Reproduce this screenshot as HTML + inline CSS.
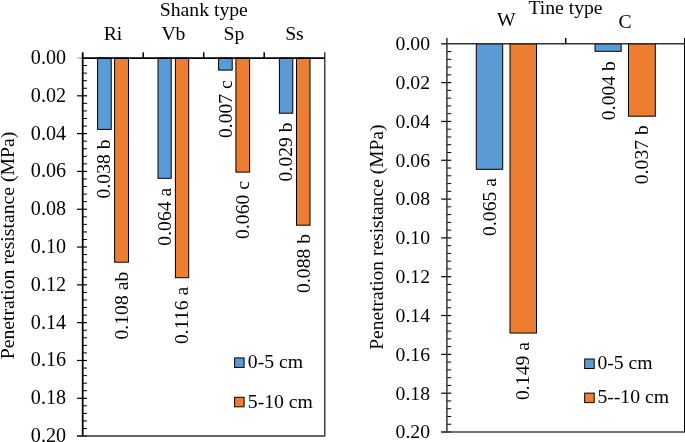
<!DOCTYPE html>
<html><head><meta charset="utf-8"><style>
html,body{margin:0;padding:0;background:#fff;width:685px;height:442px;overflow:hidden}
svg{display:block;will-change:transform}
text{font-family:"Liberation Serif",serif;fill:#000}
</style></head><body>
<svg width="685" height="442" viewBox="0 0 685 442">
<rect x="97.60" y="58.00" width="13.60" height="71.40" fill="#5B9BD5" stroke="#000" stroke-width="1"/>
<text x="110.30" y="139.34" text-anchor="end" font-size="19.7" transform="rotate(-90 110.30 139.34)">0.038 b</text>
<rect x="114.60" y="58.00" width="13.90" height="204.20" fill="#ED7D31" stroke="#000" stroke-width="1"/>
<text x="128.10" y="271.67" text-anchor="end" font-size="19.7" transform="rotate(-90 128.10 271.67)">0.108 ab</text>
<text x="112.95" y="40.40" text-anchor="middle" font-size="19.7">Ri</text>
<rect x="158.00" y="58.00" width="13.20" height="120.30" fill="#5B9BD5" stroke="#000" stroke-width="1"/>
<text x="171.30" y="187.69" text-anchor="end" font-size="19.7" transform="rotate(-90 171.30 187.69)">0.064 a</text>
<rect x="175.40" y="58.00" width="13.30" height="219.70" fill="#ED7D31" stroke="#000" stroke-width="1"/>
<text x="188.10" y="286.80" text-anchor="end" font-size="19.7" transform="rotate(-90 188.10 286.80)">0.116 a</text>
<text x="173.45" y="40.40" text-anchor="middle" font-size="19.7">Vb</text>
<rect x="218.60" y="58.00" width="13.60" height="12.10" fill="#5B9BD5" stroke="#000" stroke-width="1"/>
<text x="231.80" y="80.13" text-anchor="end" font-size="19.7" transform="rotate(-90 231.80 80.13)">0.007 c</text>
<rect x="235.90" y="58.00" width="13.70" height="114.10" fill="#ED7D31" stroke="#000" stroke-width="1"/>
<text x="249.10" y="180.93" text-anchor="end" font-size="19.7" transform="rotate(-90 249.10 180.93)">0.060 c</text>
<text x="233.95" y="40.40" text-anchor="middle" font-size="19.7">Sp</text>
<rect x="279.40" y="58.00" width="13.40" height="55.20" fill="#5B9BD5" stroke="#000" stroke-width="1"/>
<text x="292.30" y="122.32" text-anchor="end" font-size="19.7" transform="rotate(-90 292.30 122.32)">0.029 b</text>
<rect x="296.50" y="58.00" width="13.50" height="167.20" fill="#ED7D31" stroke="#000" stroke-width="1"/>
<text x="309.60" y="233.86" text-anchor="end" font-size="19.7" transform="rotate(-90 309.60 233.86)">0.088 b</text>
<text x="294.45" y="40.40" text-anchor="middle" font-size="19.7">Ss</text>
<line x1="77.00" y1="58.00" x2="82.70" y2="58.00" stroke="#999" stroke-width="1"/>
<line x1="82.70" y1="65.56" x2="87.00" y2="65.56" stroke="#000" stroke-width="1"/>
<line x1="82.70" y1="73.12" x2="87.00" y2="73.12" stroke="#000" stroke-width="1"/>
<line x1="82.70" y1="80.69" x2="87.00" y2="80.69" stroke="#000" stroke-width="1"/>
<line x1="82.70" y1="88.25" x2="87.00" y2="88.25" stroke="#000" stroke-width="1"/>
<line x1="77.00" y1="95.81" x2="87.00" y2="95.81" stroke="#000" stroke-width="1.2"/>
<line x1="82.70" y1="103.37" x2="87.00" y2="103.37" stroke="#000" stroke-width="1"/>
<line x1="82.70" y1="110.93" x2="87.00" y2="110.93" stroke="#000" stroke-width="1"/>
<line x1="82.70" y1="118.50" x2="87.00" y2="118.50" stroke="#000" stroke-width="1"/>
<line x1="82.70" y1="126.06" x2="87.00" y2="126.06" stroke="#000" stroke-width="1"/>
<line x1="77.00" y1="133.62" x2="87.00" y2="133.62" stroke="#000" stroke-width="1.2"/>
<line x1="82.70" y1="141.18" x2="87.00" y2="141.18" stroke="#000" stroke-width="1"/>
<line x1="82.70" y1="148.74" x2="87.00" y2="148.74" stroke="#000" stroke-width="1"/>
<line x1="82.70" y1="156.31" x2="87.00" y2="156.31" stroke="#000" stroke-width="1"/>
<line x1="82.70" y1="163.87" x2="87.00" y2="163.87" stroke="#000" stroke-width="1"/>
<line x1="77.00" y1="171.43" x2="87.00" y2="171.43" stroke="#000" stroke-width="1.2"/>
<line x1="82.70" y1="178.99" x2="87.00" y2="178.99" stroke="#000" stroke-width="1"/>
<line x1="82.70" y1="186.55" x2="87.00" y2="186.55" stroke="#000" stroke-width="1"/>
<line x1="82.70" y1="194.12" x2="87.00" y2="194.12" stroke="#000" stroke-width="1"/>
<line x1="82.70" y1="201.68" x2="87.00" y2="201.68" stroke="#000" stroke-width="1"/>
<line x1="77.00" y1="209.24" x2="87.00" y2="209.24" stroke="#000" stroke-width="1.2"/>
<line x1="82.70" y1="216.80" x2="87.00" y2="216.80" stroke="#000" stroke-width="1"/>
<line x1="82.70" y1="224.36" x2="87.00" y2="224.36" stroke="#000" stroke-width="1"/>
<line x1="82.70" y1="231.93" x2="87.00" y2="231.93" stroke="#000" stroke-width="1"/>
<line x1="82.70" y1="239.49" x2="87.00" y2="239.49" stroke="#000" stroke-width="1"/>
<line x1="77.00" y1="247.05" x2="87.00" y2="247.05" stroke="#000" stroke-width="1.2"/>
<line x1="82.70" y1="254.61" x2="87.00" y2="254.61" stroke="#000" stroke-width="1"/>
<line x1="82.70" y1="262.17" x2="87.00" y2="262.17" stroke="#000" stroke-width="1"/>
<line x1="82.70" y1="269.74" x2="87.00" y2="269.74" stroke="#000" stroke-width="1"/>
<line x1="82.70" y1="277.30" x2="87.00" y2="277.30" stroke="#000" stroke-width="1"/>
<line x1="77.00" y1="284.86" x2="87.00" y2="284.86" stroke="#000" stroke-width="1.2"/>
<line x1="82.70" y1="292.42" x2="87.00" y2="292.42" stroke="#000" stroke-width="1"/>
<line x1="82.70" y1="299.98" x2="87.00" y2="299.98" stroke="#000" stroke-width="1"/>
<line x1="82.70" y1="307.55" x2="87.00" y2="307.55" stroke="#000" stroke-width="1"/>
<line x1="82.70" y1="315.11" x2="87.00" y2="315.11" stroke="#000" stroke-width="1"/>
<line x1="77.00" y1="322.67" x2="87.00" y2="322.67" stroke="#000" stroke-width="1.2"/>
<line x1="82.70" y1="330.23" x2="87.00" y2="330.23" stroke="#000" stroke-width="1"/>
<line x1="82.70" y1="337.79" x2="87.00" y2="337.79" stroke="#000" stroke-width="1"/>
<line x1="82.70" y1="345.36" x2="87.00" y2="345.36" stroke="#000" stroke-width="1"/>
<line x1="82.70" y1="352.92" x2="87.00" y2="352.92" stroke="#000" stroke-width="1"/>
<line x1="77.00" y1="360.48" x2="87.00" y2="360.48" stroke="#000" stroke-width="1.2"/>
<line x1="82.70" y1="368.04" x2="87.00" y2="368.04" stroke="#000" stroke-width="1"/>
<line x1="82.70" y1="375.60" x2="87.00" y2="375.60" stroke="#000" stroke-width="1"/>
<line x1="82.70" y1="383.17" x2="87.00" y2="383.17" stroke="#000" stroke-width="1"/>
<line x1="82.70" y1="390.73" x2="87.00" y2="390.73" stroke="#000" stroke-width="1"/>
<line x1="77.00" y1="398.29" x2="87.00" y2="398.29" stroke="#000" stroke-width="1.2"/>
<line x1="82.70" y1="405.85" x2="87.00" y2="405.85" stroke="#000" stroke-width="1"/>
<line x1="82.70" y1="413.41" x2="87.00" y2="413.41" stroke="#000" stroke-width="1"/>
<line x1="82.70" y1="420.98" x2="87.00" y2="420.98" stroke="#000" stroke-width="1"/>
<line x1="82.70" y1="428.54" x2="87.00" y2="428.54" stroke="#000" stroke-width="1"/>
<line x1="77.00" y1="436.10" x2="87.00" y2="436.10" stroke="#000" stroke-width="1.2"/>
<text x="66.00" y="63.90" text-anchor="end" font-size="20.1">0.00</text>
<text x="66.00" y="101.71" text-anchor="end" font-size="20.1">0.02</text>
<text x="66.00" y="139.52" text-anchor="end" font-size="20.1">0.04</text>
<text x="66.00" y="177.33" text-anchor="end" font-size="20.1">0.06</text>
<text x="66.00" y="215.14" text-anchor="end" font-size="20.1">0.08</text>
<text x="66.00" y="252.95" text-anchor="end" font-size="20.1">0.10</text>
<text x="66.00" y="290.76" text-anchor="end" font-size="20.1">0.12</text>
<text x="66.00" y="328.57" text-anchor="end" font-size="20.1">0.14</text>
<text x="66.00" y="366.38" text-anchor="end" font-size="20.1">0.16</text>
<text x="66.00" y="404.19" text-anchor="end" font-size="20.1">0.18</text>
<text x="66.00" y="442.00" text-anchor="end" font-size="20.1">0.20</text>
<line x1="82.70" y1="52.30" x2="82.70" y2="436.10" stroke="#000" stroke-width="1.75"/>
<line x1="81.70" y1="58.00" x2="324.70" y2="58.00" stroke="#000" stroke-width="1.75"/>
<line x1="143.20" y1="52.30" x2="143.20" y2="58.00" stroke="#000" stroke-width="1.5"/>
<line x1="203.70" y1="52.30" x2="203.70" y2="58.00" stroke="#000" stroke-width="1.5"/>
<line x1="264.20" y1="52.30" x2="264.20" y2="58.00" stroke="#000" stroke-width="1.5"/>
<line x1="324.80" y1="52.30" x2="324.80" y2="436.60" stroke="#1a1a1a" stroke-width="1.25"/>
<line x1="77.00" y1="436.10" x2="324.70" y2="436.10" stroke="#333" stroke-width="1.5"/>
<text x="203.80" y="16.10" text-anchor="middle" font-size="19.7">Shank type</text>
<text x="13.80" y="245.50" text-anchor="middle" font-size="19.7" transform="rotate(-90 13.80 245.50)">Penetration resistance (MPa)</text>
<rect x="234.60" y="357.90" width="9.50" height="9.50" fill="#5B9BD5" stroke="#000" stroke-width="1"/>
<rect x="234.60" y="397.30" width="9.50" height="9.50" fill="#ED7D31" stroke="#000" stroke-width="1"/>
<text x="247.80" y="368.20" text-anchor="start" font-size="19.7">0-5 cm</text>
<text x="247.80" y="408.20" text-anchor="start" font-size="19.7">5-10 cm</text>
<rect x="476.30" y="43.80" width="26.40" height="125.50" fill="#5B9BD5" stroke="#000" stroke-width="1"/>
<text x="496.00" y="177.97" text-anchor="end" font-size="19.7" transform="rotate(-90 496.00 177.97)">0.065 a</text>
<rect x="510.00" y="43.80" width="26.50" height="289.25" fill="#ED7D31" stroke="#000" stroke-width="1"/>
<text x="529.50" y="342.01" text-anchor="end" font-size="19.7" transform="rotate(-90 529.50 342.01)">0.149 a</text>
<text x="506.30" y="26.30" text-anchor="middle" font-size="19.7">W</text>
<rect x="595.00" y="43.80" width="26.20" height="7.50" fill="#5B9BD5" stroke="#000" stroke-width="1"/>
<text x="614.80" y="61.06" text-anchor="end" font-size="19.7" transform="rotate(-90 614.80 61.06)">0.004 b</text>
<rect x="628.50" y="43.80" width="26.80" height="72.40" fill="#ED7D31" stroke="#000" stroke-width="1"/>
<text x="648.30" y="125.12" text-anchor="end" font-size="19.7" transform="rotate(-90 648.30 125.12)">0.037 b</text>
<text x="625.10" y="27.60" text-anchor="middle" font-size="19.7">C</text>
<line x1="441.20" y1="43.80" x2="446.90" y2="43.80" stroke="#333" stroke-width="1.5"/>
<line x1="446.90" y1="51.56" x2="451.20" y2="51.56" stroke="#000" stroke-width="1"/>
<line x1="446.90" y1="59.33" x2="451.20" y2="59.33" stroke="#000" stroke-width="1"/>
<line x1="446.90" y1="67.09" x2="451.20" y2="67.09" stroke="#000" stroke-width="1"/>
<line x1="446.90" y1="74.86" x2="451.20" y2="74.86" stroke="#000" stroke-width="1"/>
<line x1="441.20" y1="82.62" x2="451.20" y2="82.62" stroke="#000" stroke-width="1.2"/>
<line x1="446.90" y1="90.38" x2="451.20" y2="90.38" stroke="#000" stroke-width="1"/>
<line x1="446.90" y1="98.15" x2="451.20" y2="98.15" stroke="#000" stroke-width="1"/>
<line x1="446.90" y1="105.91" x2="451.20" y2="105.91" stroke="#000" stroke-width="1"/>
<line x1="446.90" y1="113.68" x2="451.20" y2="113.68" stroke="#000" stroke-width="1"/>
<line x1="441.20" y1="121.44" x2="451.20" y2="121.44" stroke="#000" stroke-width="1.2"/>
<line x1="446.90" y1="129.20" x2="451.20" y2="129.20" stroke="#000" stroke-width="1"/>
<line x1="446.90" y1="136.97" x2="451.20" y2="136.97" stroke="#000" stroke-width="1"/>
<line x1="446.90" y1="144.73" x2="451.20" y2="144.73" stroke="#000" stroke-width="1"/>
<line x1="446.90" y1="152.50" x2="451.20" y2="152.50" stroke="#000" stroke-width="1"/>
<line x1="441.20" y1="160.26" x2="451.20" y2="160.26" stroke="#000" stroke-width="1.2"/>
<line x1="446.90" y1="168.02" x2="451.20" y2="168.02" stroke="#000" stroke-width="1"/>
<line x1="446.90" y1="175.79" x2="451.20" y2="175.79" stroke="#000" stroke-width="1"/>
<line x1="446.90" y1="183.55" x2="451.20" y2="183.55" stroke="#000" stroke-width="1"/>
<line x1="446.90" y1="191.32" x2="451.20" y2="191.32" stroke="#000" stroke-width="1"/>
<line x1="441.20" y1="199.08" x2="451.20" y2="199.08" stroke="#000" stroke-width="1.2"/>
<line x1="446.90" y1="206.84" x2="451.20" y2="206.84" stroke="#000" stroke-width="1"/>
<line x1="446.90" y1="214.61" x2="451.20" y2="214.61" stroke="#000" stroke-width="1"/>
<line x1="446.90" y1="222.37" x2="451.20" y2="222.37" stroke="#000" stroke-width="1"/>
<line x1="446.90" y1="230.14" x2="451.20" y2="230.14" stroke="#000" stroke-width="1"/>
<line x1="441.20" y1="237.90" x2="451.20" y2="237.90" stroke="#000" stroke-width="1.2"/>
<line x1="446.90" y1="245.66" x2="451.20" y2="245.66" stroke="#000" stroke-width="1"/>
<line x1="446.90" y1="253.43" x2="451.20" y2="253.43" stroke="#000" stroke-width="1"/>
<line x1="446.90" y1="261.19" x2="451.20" y2="261.19" stroke="#000" stroke-width="1"/>
<line x1="446.90" y1="268.96" x2="451.20" y2="268.96" stroke="#000" stroke-width="1"/>
<line x1="441.20" y1="276.72" x2="451.20" y2="276.72" stroke="#000" stroke-width="1.2"/>
<line x1="446.90" y1="284.48" x2="451.20" y2="284.48" stroke="#000" stroke-width="1"/>
<line x1="446.90" y1="292.25" x2="451.20" y2="292.25" stroke="#000" stroke-width="1"/>
<line x1="446.90" y1="300.01" x2="451.20" y2="300.01" stroke="#000" stroke-width="1"/>
<line x1="446.90" y1="307.78" x2="451.20" y2="307.78" stroke="#000" stroke-width="1"/>
<line x1="441.20" y1="315.54" x2="451.20" y2="315.54" stroke="#000" stroke-width="1.2"/>
<line x1="446.90" y1="323.30" x2="451.20" y2="323.30" stroke="#000" stroke-width="1"/>
<line x1="446.90" y1="331.07" x2="451.20" y2="331.07" stroke="#000" stroke-width="1"/>
<line x1="446.90" y1="338.83" x2="451.20" y2="338.83" stroke="#000" stroke-width="1"/>
<line x1="446.90" y1="346.60" x2="451.20" y2="346.60" stroke="#000" stroke-width="1"/>
<line x1="441.20" y1="354.36" x2="451.20" y2="354.36" stroke="#000" stroke-width="1.2"/>
<line x1="446.90" y1="362.12" x2="451.20" y2="362.12" stroke="#000" stroke-width="1"/>
<line x1="446.90" y1="369.89" x2="451.20" y2="369.89" stroke="#000" stroke-width="1"/>
<line x1="446.90" y1="377.65" x2="451.20" y2="377.65" stroke="#000" stroke-width="1"/>
<line x1="446.90" y1="385.42" x2="451.20" y2="385.42" stroke="#000" stroke-width="1"/>
<line x1="441.20" y1="393.18" x2="451.20" y2="393.18" stroke="#000" stroke-width="1.2"/>
<line x1="446.90" y1="400.94" x2="451.20" y2="400.94" stroke="#000" stroke-width="1"/>
<line x1="446.90" y1="408.71" x2="451.20" y2="408.71" stroke="#000" stroke-width="1"/>
<line x1="446.90" y1="416.47" x2="451.20" y2="416.47" stroke="#000" stroke-width="1"/>
<line x1="446.90" y1="424.24" x2="451.20" y2="424.24" stroke="#000" stroke-width="1"/>
<line x1="441.20" y1="432.00" x2="451.20" y2="432.00" stroke="#000" stroke-width="1.2"/>
<text x="430.00" y="50.20" text-anchor="end" font-size="19.7">0.00</text>
<text x="430.00" y="89.02" text-anchor="end" font-size="19.7">0.02</text>
<text x="430.00" y="127.84" text-anchor="end" font-size="19.7">0.04</text>
<text x="430.00" y="166.66" text-anchor="end" font-size="19.7">0.06</text>
<text x="430.00" y="205.48" text-anchor="end" font-size="19.7">0.08</text>
<text x="430.00" y="244.30" text-anchor="end" font-size="19.7">0.10</text>
<text x="430.00" y="283.12" text-anchor="end" font-size="19.7">0.12</text>
<text x="430.00" y="321.94" text-anchor="end" font-size="19.7">0.14</text>
<text x="430.00" y="360.76" text-anchor="end" font-size="19.7">0.16</text>
<text x="430.00" y="399.58" text-anchor="end" font-size="19.7">0.18</text>
<text x="430.00" y="438.40" text-anchor="end" font-size="19.7">0.20</text>
<line x1="446.90" y1="38.00" x2="446.90" y2="432.00" stroke="#333" stroke-width="1.5"/>
<line x1="445.90" y1="43.80" x2="684.50" y2="43.80" stroke="#333" stroke-width="1.5"/>
<line x1="565.70" y1="38.00" x2="565.70" y2="43.80" stroke="#000" stroke-width="1.5"/>
<line x1="684.50" y1="38.00" x2="684.50" y2="432.50" stroke="#000" stroke-width="1"/>
<line x1="441.20" y1="432.00" x2="684.50" y2="432.00" stroke="#444" stroke-width="1.5"/>
<text x="565.50" y="14.20" text-anchor="middle" font-size="19.7">Tine type</text>
<text x="383.30" y="237.10" text-anchor="middle" font-size="19.5" transform="rotate(-90 383.30 237.10)">Penetration resistance (MPa)</text>
<rect x="584.70" y="359.00" width="9.50" height="9.50" fill="#5B9BD5" stroke="#000" stroke-width="1"/>
<rect x="584.70" y="393.10" width="9.50" height="9.50" fill="#ED7D31" stroke="#000" stroke-width="1"/>
<text x="597.40" y="368.70" text-anchor="start" font-size="19.7">0-5 cm</text>
<text x="597.40" y="402.80" text-anchor="start" font-size="19.7">5--10 cm</text>
</svg></body></html>
